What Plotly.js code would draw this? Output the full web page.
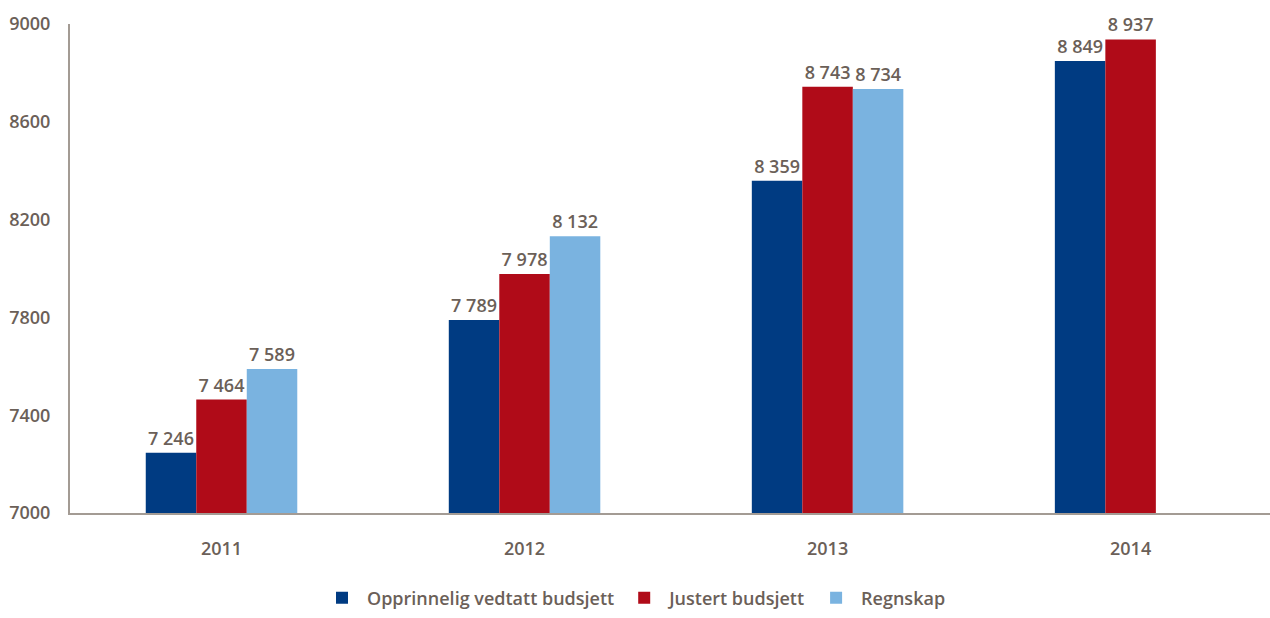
<!DOCTYPE html>
<html>
<head>
<meta charset="utf-8">
<script src="https://cdn.plot.ly/plotly-3.0.1.min.js"></script>
<style>html,body{margin:0;padding:0;background:#fff;}#chart{width:1270px;height:618px;}</style>
</head>
<body>
<div id="chart"></div>
<script>
const years = ['2011', '2012', '2013', '2014'];
const opprinnelig = [7246, 7789, 8359, 8849];
const justert = [7464, 7978, 8743, 8937];
const regnskap = [7589, 8132, 8734, null];
const seriesNames = ['Opprinnelig vedtatt budsjett', 'Justert budsjett', 'Regnskap'];
const yTicks = [7000, 7400, 7800, 8200, 8600, 9000];

const textColor = '#6b6058';
const fontFam = '"Open Sans", "Liberation Sans", sans-serif';
const fmt = v => v == null ? '' : String(v).replace(/\B(?=(\d{3})+(?!\d))/g, ' ');

function series(vals, name, color) {
  return {
    type: 'bar', x: years, y: vals, name: name,
    marker: {color: color, line: {width: 0}},
    text: vals.map(fmt),
    textposition: 'outside', cliponaxis: false,
    textfont: {family: fontFam, size: 18, color: textColor, weight: 600},
    hoverinfo: 'x+y'
  };
}

const data = [
  series(opprinnelig, seriesNames[0], '#003b82'),
  series(justert, seriesNames[1], '#b00b18'),
  series(regnskap, seriesNames[2], '#7ab3e0')
];

const layout = {
  width: 1270, height: 618,
  margin: {l: 70, r: 0, t: 24, b: 105},
  paper_bgcolor: '#ffffff', plot_bgcolor: '#ffffff',
  barmode: 'group', bargap: 0.5, bargroupgap: 0,
  font: {family: fontFam, color: textColor, size: 18, weight: 600},
  xaxis: {
    type: 'category', range: [-0.5, 3.46],
    showline: true, linecolor: '#a39b94', linewidth: 2,
    showgrid: false, ticks: '', ticklabelstandoff: 18,
    tickfont: {family: fontFam, size: 18, color: textColor, weight: 600}
  },
  yaxis: {
    range: [7000, 9000], tickvals: yTicks, ticktext: yTicks.map(String),
    showline: true, linecolor: '#a39b94', linewidth: 2,
    showgrid: false, zeroline: false, ticks: '', ticklabelstandoff: 14,
    tickfont: {family: fontFam, size: 18, color: textColor, weight: 600}
  },
  showlegend: true,
  legend: {
    orientation: 'h', x: 0.47, xanchor: 'center', y: -0.212, yanchor: 'bottom',
    font: {family: fontFam, size: 18, color: textColor, weight: 600},
    itemwidth: 40, traceorder: 'normal'
  }
};

Plotly.newPlot('chart', data, layout, {displayModeBar: false, staticPlot: true});
</script>
</body>
</html>
